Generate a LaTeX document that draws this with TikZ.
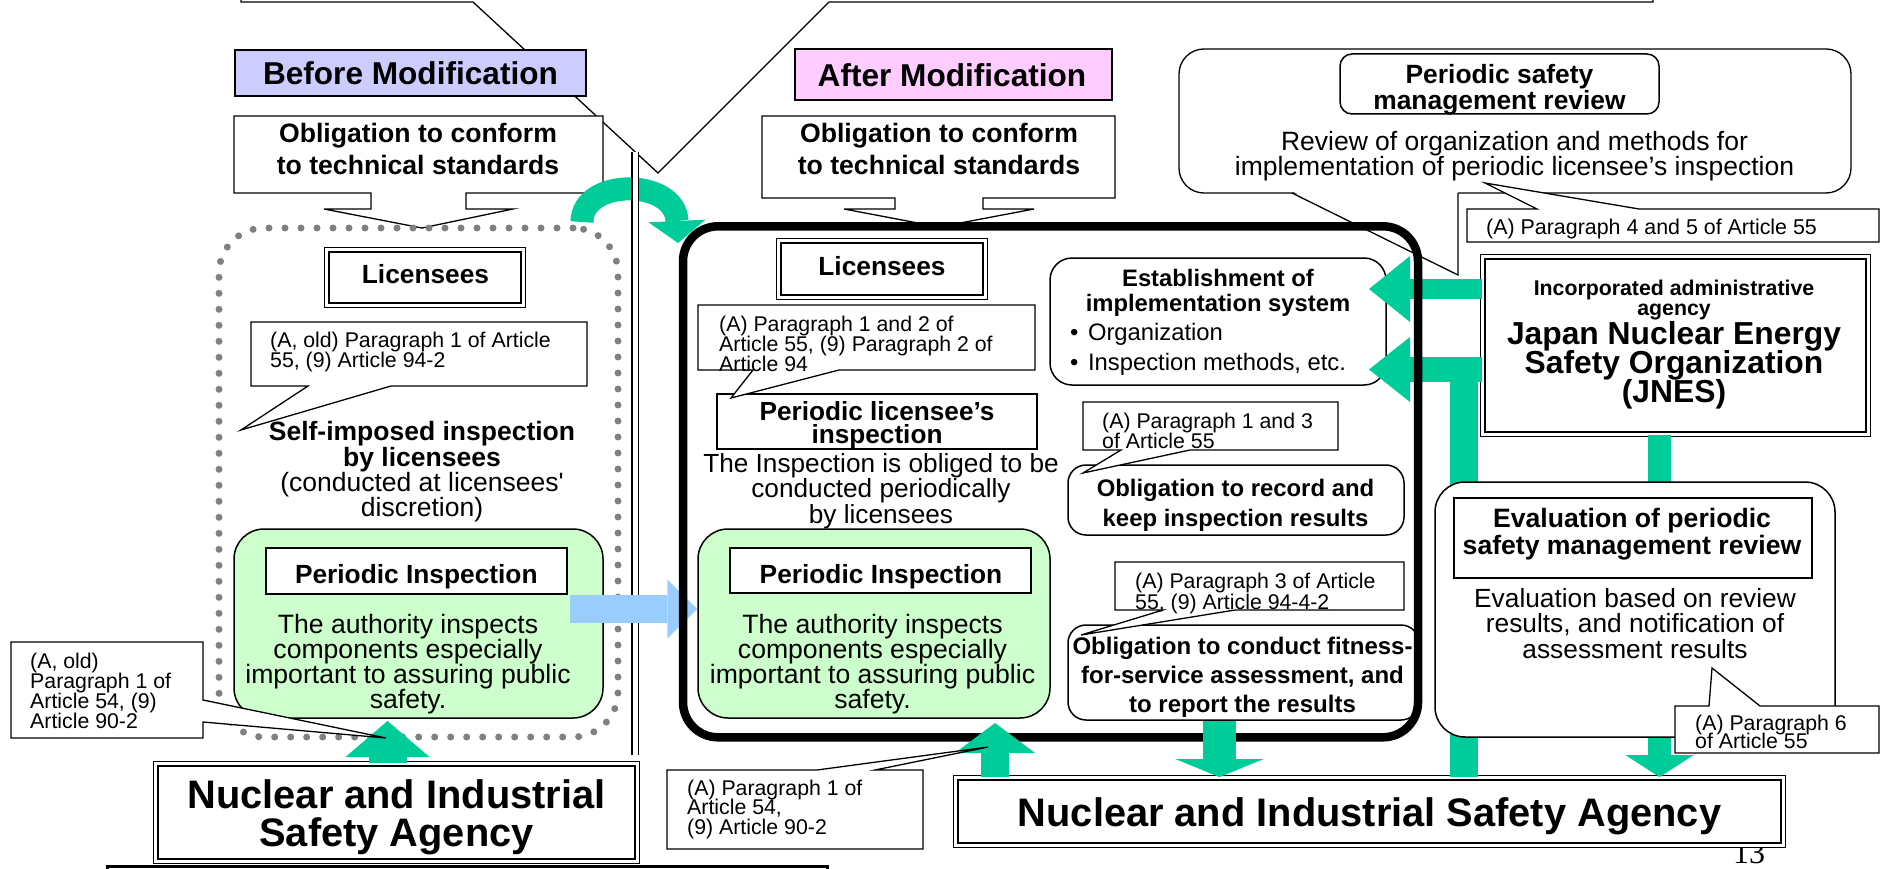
\documentclass[tikz,border=0pt]{standalone}
\usepackage{fontspec}
\setmainfont{Liberation Sans}
\newfontfamily\pagenumfont{Liberation Serif}
\usetikzlibrary{arrows.meta}
\definecolor{beforeblue}{HTML}{CCCCFF}
\definecolor{afterpink}{HTML}{FFCCFF}
\definecolor{inspgreen}{HTML}{CCFFCC}
\definecolor{jnesgreen}{HTML}{00CC99}
\definecolor{moveblue}{HTML}{99CCFF}
\definecolor{dotgray}{HTML}{808080}
\newcommand{\fsz}[2]{\fontsize{#1}{#2}\selectfont\lineskiplimit=-\maxdimen\relax}

\begin{document}
\begin{tikzpicture}[x=1pt, y=-1pt, line join=miter,
    plainbox/.style={draw, line width=1.5pt, fill=white, inner sep=0pt},
    roundbox/.style={plainbox, rounded corners=#1},
    twinbox/.style={draw, double, double distance=3pt, line width=1.4pt, fill=white, inner sep=0pt},
    bubble/.style={draw, line width=1.3pt, fill=white},
    txt/.style={inner sep=0pt, align=center, anchor=north},
    onetxt/.style={inner sep=0pt, anchor=base},
    reftxt/.style={inner sep=0pt, align=left, anchor=north west, font=\fsz{21.3}{#1}},
    flow/.style={jnesgreen, line width=#1},
  ]
  \useasboundingbox (0,0) rectangle (1881,869);

  % callout coming down from the top of the page
  \draw[bubble] (241,-30) -- (241,2) -- (473,2) -- (658,173) -- (829,2) -- (1653,2) -- (1653,-30);

  % headings
  \node[plainbox, fill=beforeblue, minimum width=351pt, minimum height=46pt] (before) at (410.5,73) {};
  \node[onetxt, font=\bfseries\fsz{31.6}{32}] (beforeText) at (410.5,85) {Before Modification};
  \node[plainbox, fill=afterpink, minimum width=317pt, minimum height=51pt] (after) at (953.5,74.5) {};
  \node[onetxt, font=\bfseries\fsz{31.6}{32}] (afterText) at (952,87) {After Modification};

  % technical standards
  \draw[bubble] (234,116) -- (603,116) -- (603,193) -- (466,193) -- (466,209) -- (513,209) -- (422,228)
    -- (324,209) -- (371,209) -- (371,193) -- (234,193) -- cycle;
  \node[txt, font=\bfseries\fsz{26.6}{32}] (obligL) at (418,123) {Obligation to conform\\to technical standards};
  \draw[bubble] (762,116) -- (1115,116) -- (1115,198) -- (983,198) -- (983,209) -- (1034,209) -- (939,227)
    -- (844,209) -- (895,209) -- (895,198) -- (762,198) -- cycle;
  \node[txt, font=\bfseries\fsz{26.6}{32}] (obligR) at (939,123) {Obligation to conform\\to technical standards};

  % agencies at the bottom
  \draw[line width=3pt, fill=white] (107,866) rectangle (827,910);
  \node[onetxt, font=\pagenumfont\fsz{32}{32}] (pageNo) at (1749,863) {13};
  \node[twinbox, minimum width=827.4pt, minimum height=67.4pt] (nisaR) at (1369.5,811.5) {};
  \node[onetxt, font=\bfseries\fsz{39.8}{40}] (nisaRText) at (1369.5,826) {Nuclear and Industrial Safety Agency};
  \node[twinbox, minimum width=481.4pt, minimum height=97.4pt] (nisaL) at (396.5,812.5) {};
  \node[txt, font=\bfseries\fsz{39.8}{38}] (nisaLText) at (396.5,779) {Nuclear and Industrial\\Safety Agency};

  % before modification
  \node[draw=dotgray, line width=7pt, line cap=round, dash pattern=on 0pt off 16pt, rounded corners=45pt,
    minimum width=399pt, minimum height=509pt] (beforeFrame) at (418.5,482.5) {};
  \coordinate (swapStart) at (582,222);
  \coordinate (swapEnd) at (678,243);
  \draw[flow=23pt, -{Triangle[length=22pt, width=57pt, line width=0pt]}] (swapStart) .. controls (582,178) and (675,178) .. (swapEnd);
  \draw[double, double distance=5pt, line width=1.3pt] (635,152) -- (635,755);

  \node[twinbox, minimum width=196.4pt, minimum height=55.4pt] (licL) at (425,277.5) {};
  \node[onetxt, font=\bfseries\fsz{26.3}{26}] (licLText) at (425.5,283.3) {Licensees};
  \draw[bubble] (251,322) -- (587,322) -- (587,386) -- (391,386) -- (241,430) -- (308,386) -- (251,386) -- cycle;
  \node[reftxt=20pt] (refOld55) at (270,332) {(A, old) Paragraph 1 of Article\\55, (9) Article 94-2};
  \node[txt, font=\fsz{26.5}{25.2}] (selfCheck) at (422,421.5) {\textbf{Self-imposed inspection}\\\textbf{by licensees}\\(conducted at licensees\textquotesingle\\discretion)};

  \node[roundbox=30pt, fill=inspgreen, minimum width=369pt, minimum height=189pt] (greenL) at (418.5,623.5) {};
  \node[plainbox, minimum width=301pt, minimum height=46pt] (piL) at (416.5,571) {};
  \node[onetxt, font=\bfseries\fsz{26.3}{26}] (piLText) at (416.3,583.3) {Periodic Inspection};
  \node[txt, font=\fsz{26.6}{25}] (authL) at (408,614.5) {The authority inspects\\components especially\\important to assuring public\\safety.};

  % after modification
  \node[roundbox=30pt, fill=inspgreen, minimum width=352pt, minimum height=189pt] (greenR) at (874,623.5) {};
  \node[plainbox, minimum width=301pt, minimum height=45pt] (piR) at (880.5,570.5) {};
  \node[onetxt, font=\bfseries\fsz{26.3}{26}] (piRText) at (881,583.3) {Periodic Inspection};
  \node[txt, font=\fsz{26.6}{25}] (authR) at (872.5,614.5) {The authority inspects\\components especially\\important to assuring public\\safety.};
  \coordinate (moveTail) at (570,609);
  \draw[moveblue, line width=28pt, -{Triangle[length=30pt, width=59pt, line width=0pt]}] (moveTail) -- (greenR.west |- moveTail);

  \node[twinbox, minimum width=206.4pt, minimum height=56.4pt] (licR) at (882,269) {};
  \node[onetxt, font=\bfseries\fsz{26.3}{26}] (licRText) at (882,275) {Licensees};
  \node[plainbox, minimum width=320pt, minimum height=55pt] (pli) at (877,421.5) {};
  \node[txt, font=\bfseries\fsz{26.2}{23}] (pliText) at (877,401.5) {Periodic licensee’s\\inspection};
  \draw[bubble] (698,305) -- (1035,305) -- (1035,370) -- (839,370) -- (731,398) -- (753,370) -- (698,370) -- cycle;
  \node[reftxt=20pt] (ref55a) at (719,316) {(A) Paragraph 1 and 2 of\\Article 55, (9) Paragraph 2 of\\Article 94};
  \node[txt, font=\fsz{26.2}{25.5}] (obliged) at (881,453) {The Inspection is obliged to be\\conducted periodically\\by licensees};

  \node[roundbox=22pt, minimum width=336pt, minimum height=127pt] (setup) at (1218,321.5) {};
  \node[txt, font=\bfseries\fsz{23.8}{25}] (setupText) at (1218,269.5) {Establishment of\\implementation system};
  \node[anchor=base west, inner sep=0pt, font=\fsz{23.8}{24}] (setupOrg) at (1070,340) {•\hspace{0.4em}Organization};
  \node[anchor=base west, inner sep=0pt, font=\fsz{23.8}{24}] (setupMethod) at (1070,370) {•\hspace{0.4em}Inspection methods, etc.};

  \node[roundbox=18pt, minimum width=336pt, minimum height=70pt] (record) at (1236,500) {};
  \node[txt, font=\bfseries\fsz{23.9}{29.5}] (recordText) at (1235.5,479) {Obligation to record and\\keep inspection results};
  \draw[bubble] (1083,402) -- (1338,402) -- (1338,450) -- (1190,450) -- (1083,473) -- (1121,450) -- (1083,450) -- cycle;
  \node[reftxt=20pt] (ref55b) at (1102,413) {(A) Paragraph 1 and 3\\of Article 55};

  \node[roundbox=18pt, minimum width=351pt, minimum height=95pt] (fitness) at (1243.5,672.5) {};
  \node[txt, font=\bfseries\fsz{24}{29}] (fitnessText) at (1242.5,636.5) {Obligation to conduct fitness-\\for-service assessment, and\\to report the results};
  \draw[bubble] (1115,562) -- (1404,562) -- (1404,610) -- (1235,610) -- (1081,635) -- (1163,610) -- (1115,610) -- cycle;
  \node[reftxt=21pt] (ref55c) at (1135,573) {(A) Paragraph 3 of Article\\55, (9) Article 94-4-2};

  % periodic safety management review
  \node[roundbox=25pt, line width=1.3pt, minimum width=672pt, minimum height=144pt] (review) at (1515,121) {};
  \fill[white] (1292,191) -- (1458,275) -- (1458,191) -- cycle;
  \draw[line width=1.3pt] (1292,193) -- (1458,275) -- (1458,193);
  \node[roundbox=12pt, minimum width=319pt, minimum height=60pt] (reviewTitle) at (1499.5,84) {};
  \node[txt, font=\bfseries\fsz{26.4}{25.5}] (reviewTitleText) at (1499.5,64.5) {Periodic safety\\management review};
  \node[txt, font=\fsz{26.5}{25}] (reviewText) at (1514.5,131.5) {Review of organization and methods for\\implementation of periodic licensee’s inspection};
  \draw[bubble] (1467,209) -- (1537,209) -- (1485,183) -- (1639,209) -- (1879,209) -- (1879,242) -- (1467,242) -- cycle;
  \node[anchor=base west, inner sep=0pt, font=\fsz{21.4}{20}] (ref55d) at (1486,234) {(A) Paragraph 4 and 5 of Article 55};

  % JNES
  \node[twinbox, minimum width=385.4pt, minimum height=177.4pt] (jnes) at (1675.5,345.5) {};
  \node[txt, font=\bfseries\fsz{21.3}{20.5}] (jnesKind) at (1674,279.5) {Incorporated administrative\\agency};
  \node[txt, font=\bfseries\fsz{31.8}{29}] (jnesName) at (1674,321) {Japan Nuclear Energy\\Safety Organization\\(JNES)};

  \coordinate (toSetupA) at (1369,289);
  \coordinate (toSetupB) at (1369,369.5);
  \coordinate (jnesDrop) at (1464,357);
  \coordinate (jnesDown) at (1659.5,777);
  \draw[flow=20pt, -{Triangle[length=41pt, width=66pt, line width=0pt]}] (jnes.west |- toSetupA) -- (toSetupA);
  \draw[flow=25pt, -{Triangle[length=41pt, width=65pt, line width=0pt]}] (jnes.west |- toSetupB) -- (toSetupB);
  \draw[flow=28pt] (jnesDrop) -- (nisaR.north -| jnesDrop);
  \draw[flow=23pt, -{Triangle[length=22pt, width=68pt, line width=0pt]}] (jnes.south -| jnesDown) -- (nisaR.north -| jnesDown);

  \node[draw, line width=8.5pt, rounded corners=35pt, minimum width=735pt, minimum height=511pt] (afterFrame) at (1050.5,481.8) {};

  % evaluation
  \node[roundbox=30pt, minimum width=400pt, minimum height=255pt] (evalBox) at (1635,609.5) {};
  \node[plainbox, minimum width=358pt, minimum height=80pt] (evalTitle) at (1633,538) {};
  \node[txt, font=\bfseries\fsz{26.6}{27}] (evalTitleText) at (1632,508) {Evaluation of periodic\\safety management review};
  \node[txt, font=\fsz{26.3}{25.5}] (evalText) at (1635,588) {Evaluation based on review\\results, and notification of\\assessment results};
  \draw[bubble] (1675,706) -- (1709,706) -- (1712,668) -- (1760,706) -- (1879,706) -- (1879,753) -- (1675,753) -- cycle;
  \node[reftxt=17.7pt] (ref55e) at (1695,715) {(A) Paragraph 6\\of Article 55};

  % arrows to and from the agency
  \coordinate (upTip) at (995,723);
  \draw[flow=28pt, -{Triangle[length=30pt, width=80pt, line width=0pt]}] (nisaR.north -| upTip) -- (upTip);
  \coordinate (downMid) at (1219.5,0);
  \draw[flow=33pt, -{Triangle[length=18pt, width=88pt, line width=0pt]}] (fitness.south -| downMid) -- (nisaR.north -| downMid);
  \coordinate (licUp) at (387.5,721);
  \draw[flow=38pt, -{Triangle[length=36pt, width=84pt, line width=0pt]}] (nisaL.north -| licUp) -- (licUp);

  \draw[bubble] (667,770) -- (817,770) -- (988,747) -- (875,770) -- (923,770) -- (923,849) -- (667,849) -- cycle;
  \node[reftxt=19.7pt] (ref54) at (687,779.5) {(A) Paragraph 1 of\\Article 54,\\(9) Article 90-2};
  \draw[bubble] (11,642) -- (203,642) -- (203,700) -- (386,738) -- (203,722) -- (203,738) -- (11,738) -- cycle;
  \node[reftxt=19.8pt] (refOld54) at (30,653) {(A, old)\\Paragraph 1 of\\Article 54, (9)\\Article 90-2};
\end{tikzpicture}
\end{document}
